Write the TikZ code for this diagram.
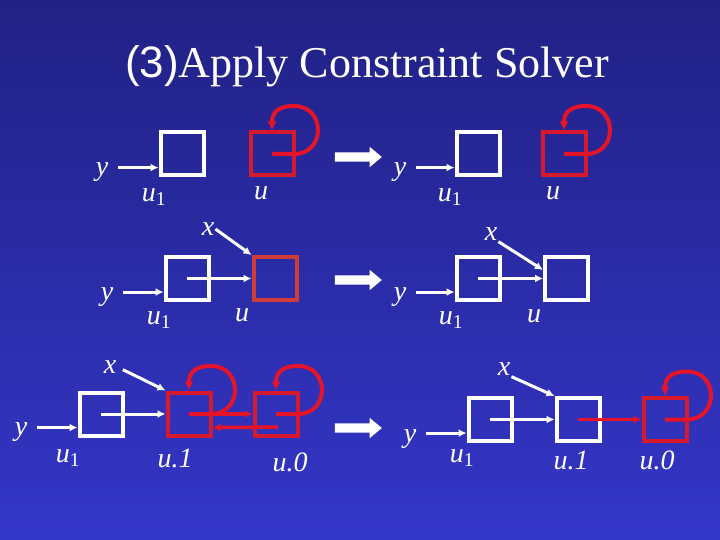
\documentclass[tikz,border=0pt]{standalone}
\usepackage{fontspec}
\setmainfont{Liberation Serif}
\newfontfamily\arialfont{Liberation Sans}
\usepackage{xcolor}
\usepackage{tikz}
\usetikzlibrary{arrows.meta, positioning, shapes.arrows, calc}

\definecolor{bgtop}{RGB}{33,33,133}
\definecolor{bgbot}{RGB}{52,54,200}
\definecolor{loopred}{RGB}{230,20,40}
\definecolor{boxred}{RGB}{215,25,45}
\definecolor{dullred}{RGB}{205,60,55}

\newcommand{\usub}{u\textsubscript{\upshape 1}}

\begin{document}
\begin{tikzpicture}[x=1pt, y=-1pt,
      wbox/.style={draw=white, line width=4pt, minimum size=43pt, inner sep=0pt},
      rbox/.style={wbox, draw=boxred},
      lbl/.style={text=white, inner sep=1pt, font=\fontsize{28}{30}\selectfont\itshape},
      warr/.style={draw=white, line width=3pt, -{Latex[length=8pt,width=8pt]}},
      rarr/.style={draw=loopred, line width=3.5pt, -{Latex[length=8pt,width=8pt]}},
      redloop/.style={draw=loopred, line width=4pt, -{Latex[length=9pt,width=9pt]}},
      bigarr/.style={single arrow, fill=white, draw=none, inner sep=4.5pt,
        minimum height=47pt, minimum width=20pt,
        single arrow head extend=5.5pt, single arrow tip angle=80}]
  \useasboundingbox (0,0) rectangle (720,540);
  \shade[top color=bgtop, bottom color=bgbot] (0,0) rectangle (720,540);

  \node[text=white, font=\fontsize{44}{48}\selectfont] (ttl) at (367,66)
    {{\arialfont (3)}Apply Constraint Solver};

  % row A
  \node[wbox] (AL1) at (182,154) {};
  \node[rbox] (ALu) at (272,154) {};
  \node[lbl] (yAL) at (102,172) {y};
  \node[lbl] (lAL1) at (154,197) {\usub};
  \node[lbl] (lALu) at (261,193) {u};
  \node[bigarr] (bigA) at (355.5,157) {};
  \node[wbox] (AR1) at (478,154) {};
  \node[rbox] (ARu) at (564,154) {};
  \node[lbl] (yAR) at (400,172) {y};
  \node[lbl] (lAR1) at (450,197) {\usub};
  \node[lbl] (lARu) at (553,193) {u};

  % row B
  \node[wbox] (BL1) at (187,278.5) {};
  \node[wbox, draw=dullred] (BLu) at (275,278.5) {};
  \node[lbl] (yBL) at (107,297) {y};
  \node[lbl] (xBL) at (208,229) {x};
  \node[lbl] (lBL1) at (159,320) {\usub};
  \node[lbl] (lBLu) at (242,315) {u};
  \node[bigarr] (bigB) at (355.5,280) {};
  \node[wbox] (BR1) at (478,278.5) {};
  \node[wbox] (BRu) at (566.5,278.5) {};
  \node[lbl] (yBR) at (400,297) {y};
  \node[lbl] (xBR) at (491,234) {x};
  \node[lbl] (lBR1) at (451,320) {\usub};
  \node[lbl] (lBRu) at (534,316) {u};

  % row C
  \node[wbox] (CL1) at (101,414) {};
  \node[rbox] (CLa) at (189,414) {};
  \node[rbox] (CLb) at (276,414) {};
  \node[lbl] (yCL) at (21,432) {y};
  \node[lbl] (xCL) at (110,367) {x};
  \node[lbl] (lCL1) at (68,458) {\usub};
  \node[lbl] (lCLa) at (175,458) {u.1};
  \node[lbl] (lCLb) at (290,462) {u.0};
  \node[bigarr] (bigC) at (355.5,428) {};
  \node[wbox] (CR1) at (490,419.5) {};
  \node[wbox] (CRa) at (578,419.5) {};
  \node[rbox] (CRb) at (665,419.5) {};
  \node[lbl] (yCR) at (410,439) {y};
  \node[lbl] (xCR) at (504,369) {x};
  \node[lbl] (lCR1) at (462,458) {\usub};
  \node[lbl] (lCRa) at (571,460) {u.1};
  \node[lbl] (lCRb) at (657,460) {u.0};

  % inputs
  \foreach \r in {AL,AR,BL,BR,CL,CR}
    \draw[warr, shorten <=9pt] (y\r.east |- \r1.-150) -- (\r1.-150);
  \draw[warr] (xBL.east) -- (BLu.north west);
  \draw[warr] (xBR.south east) -- (BRu.160);
  \draw[warr, shorten <=6pt] (xCL.east) -- (CLa.north west);
  \draw[warr] (xCR.south east) -- (CRa.north west);

  % links
  \draw[warr] (BL1.center) -- (BLu.west);
  \draw[warr] (BR1.center) -- (BRu.west);
  \draw[warr] (CL1.center) -- (CLa.west);
  \draw[warr] (CR1.center) -- (CRa.west);
  \draw[rarr] (CLa.center) -- (CLb.west);
  \draw[rarr] ($(CLb.center)+(2,13)$) -- (CLa.-30);
  \draw[rarr] (CRa.center) -- (CRb.west);

  % self loops
  \foreach \n in {ALu,ARu,CLa,CLb,CRb}
    \draw[redloop] (\n.center) -- ++(22,0)
      .. controls +(32,0) and +(32,0) .. ++(0,-48)
      .. controls +(-20,0) and +(0,-14) .. (\n.north);
\end{tikzpicture}
\end{document}
